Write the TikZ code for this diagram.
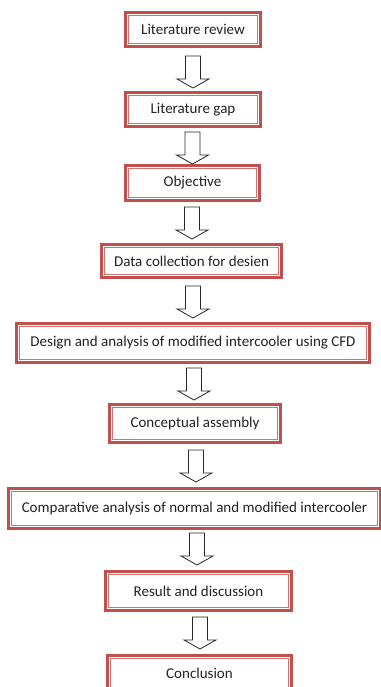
\documentclass[tikz,border=0pt]{standalone}
\usepackage{fontspec}
\setmainfont{Carlito}
\definecolor{bred}{HTML}{C0504D}
\definecolor{tgray}{HTML}{222222}
\begin{document}
\begin{tikzpicture}[x=1pt,y=-1pt,
  box/.style={draw=bred, line width=3.2pt, fill=white, inner sep=0pt,
    font=\fontsize{15}{17}\selectfont, text=tgray},
  innerline/.style={draw=bred!80, line width=1.1pt},
  blockarrow/.pic={\draw[fill=white, line width=0.8pt, draw=black!85]
    (-7.5,0) -- (7.5,0) -- (7.5,23) -- (16,23) -- (0,32) -- (-16,23) -- (-7.5,23) -- cycle;}
]
\useasboundingbox (0,0) rectangle (380,687);
\fill[white] (0,0) rectangle (380,687);

\node[box, minimum width=135, minimum height=34] (b1) at (193,29.5) {Literature review};
\node[box, minimum width=135, minimum height=34] (b2) at (193,109.5) {Literature gap};
\node[box, minimum width=134, minimum height=35] (b3) at (192.5,183) {Objective};
\node[box, minimum width=180, minimum height=33] (b4) at (191.5,261) {Data collection for desien};
\node[box, minimum width=353, minimum height=39] (b5) at (193,343) {Design and analysis of modified intercooler using CFD};
\node[box, minimum width=171, minimum height=38] (b6) at (195,423.5) {Conceptual assembly};
\node[box, minimum width=372, minimum height=40] (b7) at (194.5,508.5) {Comparative analysis of normal and modified intercooler};
\node[box, minimum width=186, minimum height=39] (b8) at (198.5,591) {Result and discussion};
\node[box, minimum width=184, minimum height=35] (b9) at (199.5,673) {Conclusion};

\foreach \n in {b1,b2,b3,b4,b5,b6,b7,b8,b9}
  \draw[innerline] ([xshift=4.2pt,yshift=-4.2pt]\n.north west) rectangle ([xshift=-4.2pt,yshift=4.2pt]\n.south east);

\pic (a1) at (193,56) {blockarrow};
\pic (a2) at (192.5,132) {blockarrow};
\pic (a3) at (192,207) {blockarrow};
\pic (a4) at (193,286) {blockarrow};
\pic (a5) at (194,368) {blockarrow};
\pic (a6) at (196,450) {blockarrow};
\pic (a7) at (197,533) {blockarrow};
\pic (a8) at (200,617) {blockarrow};
\end{tikzpicture}
\end{document}
